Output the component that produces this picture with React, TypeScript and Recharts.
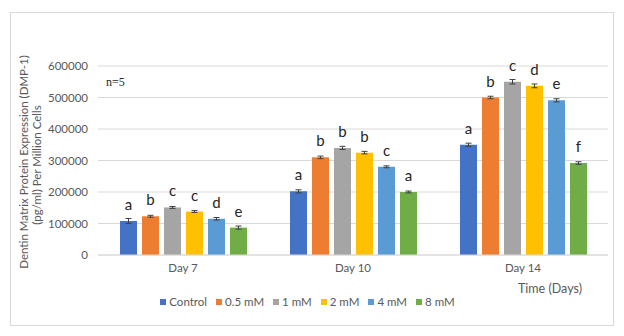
import React from "react";
import { BarChart, Bar, XAxis, YAxis, CartesianGrid, ErrorBar, LabelList, Legend } from "recharts";

const days = ["Day 7", "Day 10", "Day 14"];
const seriesNames = ["Control", "0.5 mM", "1 mM", "2 mM", "4 mM", "8 mM"];
const seriesColors = ["#4472C4", "#ED7D31", "#A5A5A5", "#FFC000", "#5B9BD5", "#70AD47"];

const controlVals = [108000, 202000, 350000];
const mM05Vals = [123000, 310000, 500000];
const mM1Vals = [151000, 340000, 550000];
const mM2Vals = [138000, 325000, 537000];
const mM4Vals = [115000, 280000, 491000];
const mM8Vals = [87000, 200000, 292000];

const controlErr = [8000, 5000, 5000];
const mM05Err = [3000, 4000, 4000];
const mM1Err = [3000, 5000, 7000];
const mM2Err = [3000, 4000, 6000];
const mM4Err = [4000, 3000, 5000];
const mM8Err = [5000, 3000, 4000];

const controlLetters = ["a", "a", "a"];
const mM05Letters = ["b", "b", "b"];
const mM1Letters = ["c", "b", "c"];
const mM2Letters = ["c", "b", "d"];
const mM4Letters = ["d", "c", "e"];
const mM8Letters = ["e", "a", "f"];

const yTicks = [0, 100000, 200000, 300000, 400000, 500000, 600000];

const allVals = [controlVals, mM05Vals, mM1Vals, mM2Vals, mM4Vals, mM8Vals];
const allErr = [controlErr, mM05Err, mM1Err, mM2Err, mM4Err, mM8Err];
const allLetters = [controlLetters, mM05Letters, mM1Letters, mM2Letters, mM4Letters, mM8Letters];

const data = days.map((d, i) => {
  const row: any = { day: d };
  seriesNames.forEach((_, s) => {
    row[`v${s}`] = allVals[s][i];
    row[`e${s}`] = allErr[s][i];
    row[`l${s}`] = allLetters[s][i];
  });
  return row;
});

const FONT = "Lato, 'Open Sans', sans-serif";

const LetterLabel = (props: any) => {
  const { x, y, width, value } = props;
  return (
    <text x={x + width / 2} y={y - 11} textAnchor="middle" fontSize={15} fill="#262626" fontFamily={FONT}>
      {value}
    </text>
  );
};

const LegendContent = () => (
  <div style={{ display: "flex", justifyContent: "center", fontFamily: FONT, fontSize: 11.5, color: "#595959" }}>
    {seriesNames.map((n, i) => (
      <div key={n} style={{ display: "flex", alignItems: "center", marginRight: 9 }}>
        <span style={{ display: "inline-block", width: 6, height: 6, background: seriesColors[i], marginRight: 3 }} />
        <span>{n}</span>
      </div>
    ))}
  </div>
);

const YLabel = () => (
  <text transform="rotate(-90)" fontFamily={FONT} fontSize={11.5} fill="#595959" textAnchor="middle">
    <tspan x={-162} y={28}>Dentin Matrix Protein Expression (DMP-1)</tspan>
    <tspan x={-165} y={41}>(pg/ml) Per Million Cells</tspan>
  </text>
);

export default function App() {
  return (
    <div style={{ position: "absolute", left: 0, top: 0, width: 624, height: 336, background: "#fff" }}>
      <div style={{ position: "absolute", left: 10, top: 12, width: 602, height: 312, border: "1px solid #d9d9d9" }} />
      <BarChart
        width={624}
        height={336}
        data={data}
        margin={{ top: 66, right: 16, left: 0, bottom: 51 }}
        barSize={17}
        barGap={5}
      >
        <CartesianGrid vertical={false} stroke="#d9d9d9" />
        <XAxis
          dataKey="day"
          axisLine={{ stroke: "#d9d9d9" }}
          tickLine={false}
          tickSize={0}
          tickMargin={9}
          tick={{ fontSize: 11.5, fill: "#595959", fontFamily: FONT }}
        />
        <YAxis
          width={98}
          domain={[0, 600000]}
          ticks={yTicks}
          axisLine={false}
          tickLine={false}
          tickSize={0}
          tickMargin={10}
          tick={{ fontSize: 11.5, fill: "#595959", fontFamily: FONT }}
        />
        <Legend verticalAlign="middle" align="center" wrapperStyle={{ top: 295, left: 0, width: 624 }} content={<LegendContent />} />
        {seriesNames.map((n, s) => (
          <Bar key={n} dataKey={`v${s}`} name={n} fill={seriesColors[s]} isAnimationActive={false}>
            <ErrorBar dataKey={`e${s}`} width={3} stroke="#404040" strokeWidth={1} direction="y" />
            <LabelList dataKey={`l${s}`} content={<LetterLabel />} />
          </Bar>
        ))}
        <YLabel />
      </BarChart>
      <div style={{ position: "absolute", left: 106, top: 75, fontFamily: "'Liberation Serif', serif", fontSize: 12, color: "#262626" }}>n=5</div>
      <div style={{ position: "absolute", left: 518, top: 281, fontFamily: FONT, fontSize: 12.5, color: "#595959" }}>Time (Days)</div>
    </div>
  );
}
